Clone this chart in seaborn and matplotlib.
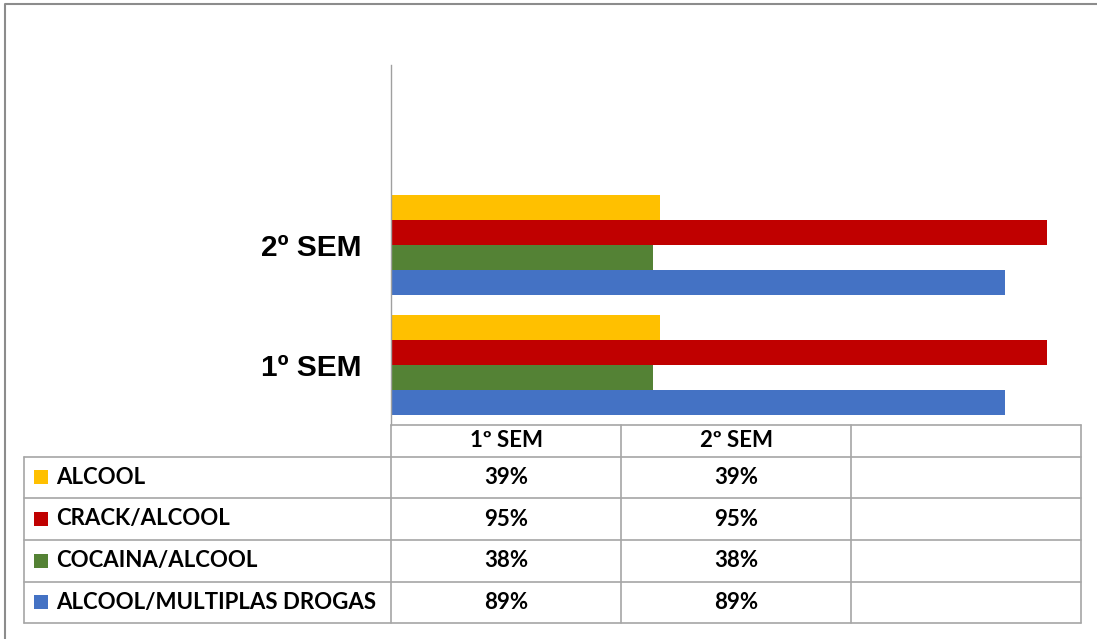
import pandas as pd
import matplotlib
matplotlib.use("Agg")
import matplotlib.pyplot as plt
from matplotlib.lines import Line2D
from matplotlib.patches import Rectangle
import seaborn as sns

# dados do gráfico
periodos = ["1º SEM", "2º SEM"]
series = ["ALCOOL", "CRACK/ALCOOL", "COCAINA/ALCOOL", "ALCOOL/MULTIPLAS DROGAS"]
alcool = [0.39, 0.39]
crack_alcool = [0.95, 0.95]
cocaina_alcool = [0.38, 0.38]
alcool_multiplas = [0.89, 0.89]
cores = ["#FFC000", "#C00000", "#548235", "#4472C4"]

valores = [alcool, crack_alcool, cocaina_alcool, alcool_multiplas]
linhas = []
for serie, vals in zip(series, valores):
    for periodo, v in zip(periodos, vals):
        linhas.append({"periodo": periodo, "serie": serie, "valor": v})
df = pd.DataFrame(linhas)

W, H = 1097, 639
sns.set_style("white")
fig = plt.figure(figsize=(W / 100, H / 100), dpi=100)

def fx(px):
    return px / W

def fy(py):
    return 1 - py / H

# área do gráfico
ax_l, ax_r, ax_t, ax_b = 391, 1081, 65, 425
ax = fig.add_axes([fx(ax_l), fy(ax_b), fx(ax_r - ax_l), (ax_b - ax_t) / H])

ordem = [" ", "2º SEM", "1º SEM"]
sns.barplot(data=df, y="periodo", x="valor", hue="serie", order=ordem,
            hue_order=series, palette=cores, width=0.84, orient="h",
            saturation=1, legend=False, linewidth=0, ax=ax)
ax.set_xlim(0, 1)
ax.set_ylim(2.5, -0.5)
ax.set_xticks([])
ax.set_xlabel("")
ax.set_ylabel("")
for s in ["top", "right", "bottom"]:
    ax.spines[s].set_visible(False)
ax.spines["left"].set_color("#A0A0A0")
ax.spines["left"].set_linewidth(1.0)
ax.tick_params(axis="y", length=0, pad=21)
for lbl in ax.get_yticklabels():
    lbl.set_fontfamily("Liberation Sans")
    lbl.set_fontweight("bold")
    lbl.set_fontsize(21.5)
    lbl.set_color("black")

# tabela de dados
cor_linha = "#A6A6A6"
lw = 1.2
col_x = [391, 621, 851, 1081]
tab_l = 24
linhas_y = [425, 456.5, 498, 540, 581.5, 623.3]
fonte_tab = dict(family="Lato", weight="bold", fontsize=16, color="black")

def hline(x0, x1, y):
    fig.add_artist(Line2D([fx(x0), fx(x1)], [fy(y), fy(y)], color=cor_linha, lw=lw))

def vline(x, y0, y1):
    fig.add_artist(Line2D([fx(x), fx(x)], [fy(y0), fy(y1)], color=cor_linha, lw=lw))

hline(col_x[0], col_x[-1], linhas_y[0])
for y in linhas_y[1:]:
    hline(tab_l, col_x[-1], y)
for x in col_x:
    vline(x, linhas_y[0], linhas_y[-1])
vline(tab_l, linhas_y[1], linhas_y[-1])

cabecalho = periodos + [""]
yc = (linhas_y[0] + linhas_y[1]) / 2
for i, txt in enumerate(cabecalho):
    xc = (col_x[i] + col_x[i + 1]) / 2
    fig.text(fx(xc), fy(yc), txt, ha="center", va="center", **fonte_tab)

for r, (serie, cor, vals) in enumerate(zip(series, cores, valores)):
    yc = (linhas_y[r + 1] + linhas_y[r + 2]) / 2
    fig.add_artist(Rectangle((fx(34), fy(yc + 7)), fx(14), 14 / H,
                             facecolor=cor, edgecolor="none"))
    fig.text(fx(56), fy(yc), serie, ha="left", va="center", **fonte_tab)
    for i, v in enumerate(vals):
        xc = (col_x[i] + col_x[i + 1]) / 2
        fig.text(fx(xc), fy(yc), f"{round(v * 100)}%", ha="center",
                 va="center", **fonte_tab)

# moldura externa
fig.add_artist(Line2D([fx(5), fx(5), fx(W + 5)], [fy(H + 5), fy(3.5), fy(3.5)],
                      color="#8C8C8C", lw=1.5))

fig.savefig("out.png", dpi=100)
